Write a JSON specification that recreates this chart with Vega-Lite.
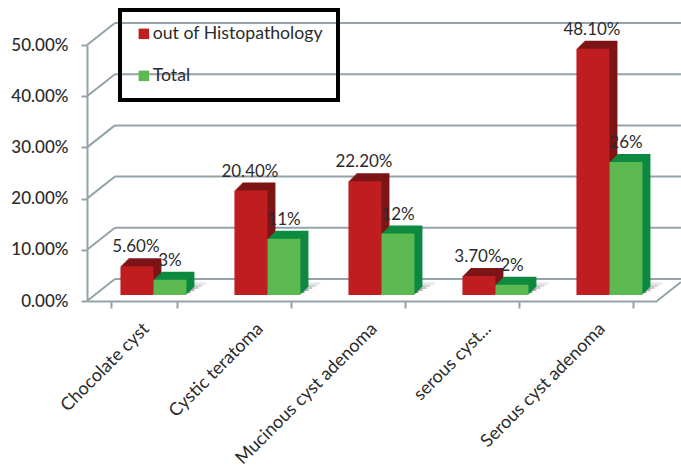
{"$schema":"https://vega.github.io/schema/vega-lite/v6.json","width":570,"height":256,"autosize":"none","padding":{"left":87,"top":45,"right":24,"bottom":172},"background":"#ffffff",
"config":{"font":"Lato","view":{"stroke":null},"legend":{"strokeWidth":4}},
"datasets":{"bars":[
{"type":"Chocolate cyst","series":"out of Histopathology","share":0.056,"label":"5.60%"},
{"type":"Chocolate cyst","series":"Total","share":0.03,"label":"3%"},
{"type":"Cystic teratoma","series":"out of Histopathology","share":0.204,"label":"20.40%"},
{"type":"Cystic teratoma","series":"Total","share":0.11,"label":"11%"},
{"type":"Mucinous cyst adenoma","series":"out of Histopathology","share":0.222,"label":"22.20%"},
{"type":"Mucinous cyst adenoma","series":"Total","share":0.12,"label":"12%"},
{"type":"serous cyst...","series":"out of Histopathology","share":0.037,"label":"3.70%"},
{"type":"serous cyst...","series":"Total","share":0.02,"label":"2%"},
{"type":"Serous cyst adenoma","series":"out of Histopathology","share":0.481,"label":"48.10%"},
{"type":"Serous cyst adenoma","series":"Total","share":0.26,"label":"26%"}],
"wall":[
{"a":0,"b":0.245,"v":0,"v2":0.043},{"a":0.245,"b":5.21,"v":0.043,"v2":0.043},
{"a":0,"b":0.245,"v":0.1,"v2":0.143},{"a":0.245,"b":5.21,"v":0.143,"v2":0.143},
{"a":0,"b":0.245,"v":0.2,"v2":0.243},{"a":0.245,"b":5.21,"v":0.243,"v2":0.243},
{"a":0,"b":0.245,"v":0.3,"v2":0.343},{"a":0.245,"b":5.21,"v":0.343,"v2":0.343},
{"a":0,"b":0.245,"v":0.4,"v2":0.443},{"a":0.245,"b":5.21,"v":0.443,"v2":0.443},
{"a":0,"b":0.245,"v":0.5,"v2":0.543},{"a":0.245,"b":5.21,"v":0.543,"v2":0.543},
{"a":5,"b":5.21,"v":0,"v2":0.037}]},
"layer":[
{"data":{"name":"wall"},"mark":{"type":"rule","color":"#93a3aa","strokeWidth":2},
"encoding":{
"x":{"field":"a","type":"quantitative","scale":{"domain":[0,5],"nice":false,"zero":false},"axis":null},
"x2":{"field":"b"},
"y":{"field":"v","type":"quantitative","title":null,"scale":{"domain":[0,0.5],"nice":false},
"axis":{"format":".2%","values":[0,0.1,0.2,0.3,0.4,0.5],"grid":false,"domainColor":"#93a3aa","domainWidth":2,"tickColor":"#93a3aa","tickWidth":2,"tickSize":6,"labelFontSize":17,"labelColor":"#2b2b2b","labelPadding":13,"labelFontWeight":500}},
"y2":{"field":"v2"}}},
{"data":{"name":"bars"},
"encoding":{
"x":{"field":"type","type":"nominal","sort":null,"title":null,"scale":{"paddingInner":0.42,"paddingOuter":0.21},
"axis":{"labelAngle":-45,"labelAlign":"right","labelBaseline":"middle","labelFontSize":18,"labelLimit":400,"labelColor":"#2b2b2b","labelPadding":18,"labelOffset":2,"tickBand":"extent","tickColor":"#93a3aa","tickWidth":2,"tickSize":7,"domainColor":"#93a3aa","domainWidth":2,"grid":false}}},
"resolve":{"scale":{"xOffset":"independent"}},
"layer":[
{"transform":[{"filter":"datum.series === 'Total'"},{"calculate":"0.006","as":"shade"}],"mark":{"type":"bar","color":"#ececec","yOffset":-16},"encoding":{"xOffset":{"field":"series","type":"nominal","scale":{"domain":["out of Histopathology","Total"],"range":[29.5,95.5],"paddingInner":0,"paddingOuter":0}},"y":{"field":"shade","type":"quantitative"}}},
{"transform":[{"filter":"datum.series === 'Total'"},{"calculate":"0.006","as":"shade"}],"mark":{"type":"bar","color":"#dcdcdc","yOffset":-14},"encoding":{"xOffset":{"field":"series","type":"nominal","scale":{"domain":["out of Histopathology","Total"],"range":[25.5,91.5],"paddingInner":0,"paddingOuter":0}},"y":{"field":"shade","type":"quantitative"}}},
{"transform":[{"filter":"datum.series === 'Total'"},{"calculate":"0.006","as":"shade"}],"mark":{"type":"bar","color":"#c8c8c8","yOffset":-12},"encoding":{"xOffset":{"field":"series","type":"nominal","scale":{"domain":["out of Histopathology","Total"],"range":[21.5,87.5],"paddingInner":0,"paddingOuter":0}},"y":{"field":"shade","type":"quantitative"}}},
{"transform":[{"filter":"datum.series === 'Total'"},{"calculate":"0.006","as":"shade"}],"mark":{"type":"bar","color":"#b0b0b0","yOffset":-10},"encoding":{"xOffset":{"field":"series","type":"nominal","scale":{"domain":["out of Histopathology","Total"],"range":[17.5,83.5],"paddingInner":0,"paddingOuter":0}},"y":{"field":"shade","type":"quantitative"}}},
{"transform":[{"filter":"datum.series === 'Total'"},{"calculate":"0.006","as":"shade"}],"mark":{"type":"bar","color":"#989898","yOffset":-8},"encoding":{"xOffset":{"field":"series","type":"nominal","scale":{"domain":["out of Histopathology","Total"],"range":[13.5,79.5],"paddingInner":0,"paddingOuter":0}},"y":{"field":"shade","type":"quantitative"}}},
{"mark":{"type":"bar","yOffset":-14},"encoding":{"xOffset":{"field":"series","type":"nominal","sort":["out of Histopathology","Total"],"scale":{"range":[17.5,83.5],"paddingInner":0,"paddingOuter":0}},"y":{"field":"share","type":"quantitative"},"fill":{"condition":{"test":"datum.series === 'Total'","value":"#0c8a40"},"value":"#7d1517"}}},
{"mark":{"type":"bar","yOffset":-13},"encoding":{"xOffset":{"field":"series","type":"nominal","sort":["out of Histopathology","Total"],"scale":{"range":[16.5,82.5],"paddingInner":0,"paddingOuter":0}},"y":{"field":"share","type":"quantitative"},"fill":{"condition":{"test":"datum.series === 'Total'","value":"#0c8a40"},"value":"#7d1517"}}},
{"mark":{"type":"bar","yOffset":-12},"encoding":{"xOffset":{"field":"series","type":"nominal","sort":["out of Histopathology","Total"],"scale":{"range":[15.5,81.5],"paddingInner":0,"paddingOuter":0}},"y":{"field":"share","type":"quantitative"},"fill":{"condition":{"test":"datum.series === 'Total'","value":"#0c8a40"},"value":"#7d1517"}}},
{"mark":{"type":"bar","yOffset":-11},"encoding":{"xOffset":{"field":"series","type":"nominal","sort":["out of Histopathology","Total"],"scale":{"range":[14.5,80.5],"paddingInner":0,"paddingOuter":0}},"y":{"field":"share","type":"quantitative"},"fill":{"condition":{"test":"datum.series === 'Total'","value":"#0c8a40"},"value":"#7d1517"}}},
{"mark":{"type":"bar","yOffset":-10},"encoding":{"xOffset":{"field":"series","type":"nominal","sort":["out of Histopathology","Total"],"scale":{"range":[13.5,79.5],"paddingInner":0,"paddingOuter":0}},"y":{"field":"share","type":"quantitative"},"fill":{"condition":{"test":"datum.series === 'Total'","value":"#0c8a40"},"value":"#7d1517"}}},
{"mark":{"type":"bar","yOffset":-9},"encoding":{"xOffset":{"field":"series","type":"nominal","sort":["out of Histopathology","Total"],"scale":{"range":[12.5,78.5],"paddingInner":0,"paddingOuter":0}},"y":{"field":"share","type":"quantitative"},"fill":{"condition":{"test":"datum.series === 'Total'","value":"#0c8a40"},"value":"#7d1517"}}},
{"mark":{"type":"bar","yOffset":-8},"encoding":{"xOffset":{"field":"series","type":"nominal","sort":["out of Histopathology","Total"],"scale":{"range":[11.5,77.5],"paddingInner":0,"paddingOuter":0}},"y":{"field":"share","type":"quantitative"},"fill":{"condition":{"test":"datum.series === 'Total'","value":"#0c8a40"},"value":"#7d1517"}}},
{"mark":{"type":"bar","yOffset":-7},"encoding":{"xOffset":{"field":"series","type":"nominal","sort":["out of Histopathology","Total"],"scale":{"range":[10.5,76.5],"paddingInner":0,"paddingOuter":0}},"y":{"field":"share","type":"quantitative"},"fill":{"condition":{"test":"datum.series === 'Total'","value":"#0c8a40"},"value":"#7d1517"}}},
{"mark":{"type":"bar","yOffset":-6},"encoding":{"xOffset":{"field":"series","type":"nominal","sort":["out of Histopathology","Total"],"scale":{"range":[9.5,75.5],"paddingInner":0,"paddingOuter":0}},"y":{"field":"share","type":"quantitative"},
"color":{"field":"series","type":"nominal","title":null,"scale":{"domain":["out of Histopathology","Total"],"range":["#c01d20","#5cb851"]},
"legend":{"orient":"none","legendX":33,"legendY":-35,"padding":15,"strokeColor":"#000000","symbolType":"square","symbolSize":110,"symbolOpacity":1,"labelFontSize":17.7,"labelLimit":300,"labelColor":"#2b2b2b","rowPadding":23,"labelOffset":0}}}},
{"mark":{"type":"text","align":"center","baseline":"middle","fontSize":17,"color":"#2b2b2b","yOffset":-25},"encoding":{"xOffset":{"field":"series","type":"nominal","sort":["out of Histopathology","Total"],"scale":{"range":[25,59],"paddingOuter":0}},"y":{"field":"share","type":"quantitative"},"text":{"field":"label"}}}
]}
],
"resolve":{"scale":{"x":"independent"},"axis":{"x":"independent"}}}
